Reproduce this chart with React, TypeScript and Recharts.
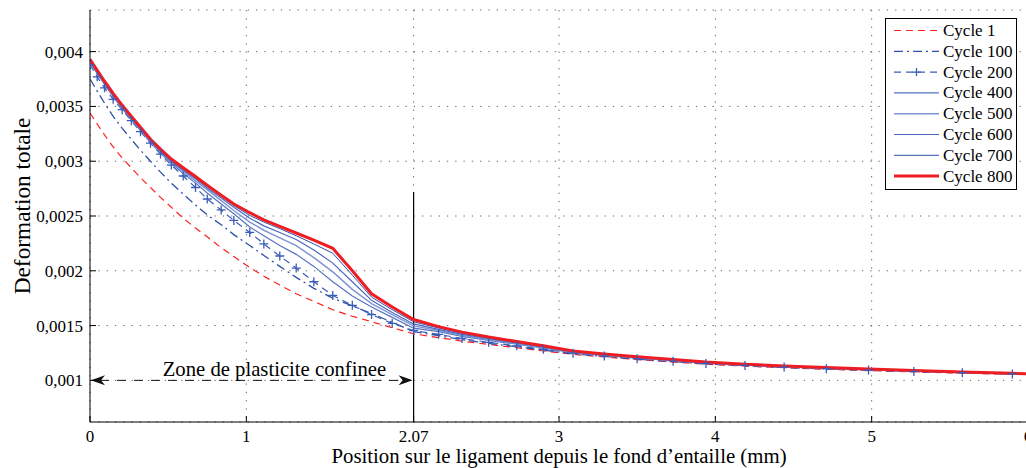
import React from "react";
import { LineChart, Line, XAxis, YAxis, CartesianGrid, ReferenceLine, Legend } from "recharts";

// mesh node positions along the ligament (mm)
const positions = [
  0, 0.046, 0.093, 0.148, 0.206, 0.264, 0.323, 0.387, 0.451, 0.52, 0.596, 0.675, 0.75, 0.839, 0.92,
  1.022, 1.112, 1.214, 1.319, 1.432, 1.553, 1.678, 1.801, 1.933, 2.07, 2.23, 2.38, 2.55, 2.73, 2.9,
  3.09, 3.29, 3.5, 3.73, 3.94, 4.19, 4.44, 4.71, 4.98, 5.27, 5.58, 5.9, 6.2,
];

// total strain, in units of 1e-3
const cycle1 = [
  3.44, 3.34, 3.24, 3.13, 3.03, 2.94, 2.85, 2.76, 2.67, 2.58, 2.48, 2.39, 2.31, 2.21, 2.13,
  2.03, 1.95, 1.87, 1.79, 1.72, 1.645, 1.585, 1.535, 1.48, 1.425, 1.39, 1.358, 1.328, 1.298, 1.268,
  1.238, 1.213, 1.19, 1.167, 1.147, 1.13, 1.115, 1.101, 1.089, 1.077, 1.066, 1.056, 1.046,
];
const cycle100 = [
  3.75, 3.64, 3.53, 3.41, 3.3, 3.2, 3.1, 3.0, 2.9, 2.8, 2.7, 2.6, 2.51, 2.42, 2.33,
  2.23, 2.14, 2.04, 1.94, 1.84, 1.75, 1.68, 1.61, 1.53, 1.445, 1.408, 1.372, 1.338, 1.307, 1.276,
  1.243, 1.218, 1.194, 1.171, 1.151, 1.133, 1.118, 1.104, 1.092, 1.08, 1.068, 1.057, 1.047,
];
const cycle200 = [
  3.88, 3.77, 3.67, 3.565, 3.47, 3.37, 3.27, 3.165, 3.065, 2.965, 2.865, 2.76, 2.655, 2.555, 2.46,
  2.35, 2.245, 2.135, 2.025, 1.9, 1.775, 1.685, 1.6, 1.52, 1.455, 1.42, 1.382, 1.347, 1.315, 1.283,
  1.248, 1.222, 1.198, 1.175, 1.154, 1.136, 1.121, 1.107, 1.094, 1.082, 1.07, 1.059, 1.048,
];
const cycle400 = [
  3.9, 3.8, 3.7, 3.59, 3.48, 3.38, 3.28, 3.17, 3.075, 2.98, 2.89, 2.8, 2.71, 2.61, 2.52,
  2.4, 2.32, 2.23, 2.15, 2.04, 1.9, 1.77, 1.67, 1.575, 1.476, 1.445, 1.402, 1.365, 1.33, 1.295,
  1.254, 1.228, 1.203, 1.179, 1.157, 1.139, 1.124, 1.109, 1.096, 1.084, 1.072, 1.06, 1.049,
];
const cycle500 = [
  3.91, 3.81, 3.71, 3.6, 3.49, 3.39, 3.29, 3.18, 3.085, 2.99, 2.91, 2.82, 2.74, 2.64, 2.55,
  2.445, 2.37, 2.3, 2.23, 2.12, 1.99, 1.83, 1.7, 1.6, 1.497, 1.455, 1.41, 1.372, 1.336, 1.3,
  1.258, 1.231, 1.206, 1.182, 1.16, 1.141, 1.126, 1.111, 1.097, 1.085, 1.073, 1.061, 1.05,
];
const cycle600 = [
  3.915, 3.815, 3.715, 3.605, 3.495, 3.395, 3.295, 3.185, 3.09, 3.0, 2.92, 2.84, 2.755, 2.665, 2.58,
  2.48, 2.41, 2.35, 2.285, 2.19, 2.07, 1.9, 1.73, 1.62, 1.515, 1.466, 1.42, 1.38, 1.342, 1.305,
  1.262, 1.234, 1.209, 1.185, 1.163, 1.144, 1.128, 1.113, 1.099, 1.087, 1.074, 1.062, 1.051,
];
const cycle700 = [
  3.92, 3.82, 3.72, 3.61, 3.5, 3.4, 3.3, 3.19, 3.1, 3.01, 2.93, 2.85, 2.77, 2.68, 2.595,
  2.505, 2.445, 2.385, 2.32, 2.245, 2.16, 1.96, 1.76, 1.645, 1.535, 1.478, 1.43, 1.387, 1.348, 1.31,
  1.265, 1.237, 1.212, 1.188, 1.165, 1.146, 1.13, 1.115, 1.101, 1.088, 1.075, 1.063, 1.052,
];
const cycle800 = [
  3.93, 3.83, 3.73, 3.62, 3.51, 3.41, 3.31, 3.2, 3.11, 3.02, 2.94, 2.86, 2.78, 2.69, 2.61,
  2.53, 2.465, 2.405, 2.345, 2.28, 2.205, 2.0, 1.79, 1.67, 1.555, 1.49, 1.44, 1.395, 1.355, 1.315,
  1.268, 1.24, 1.215, 1.19, 1.167, 1.148, 1.132, 1.117, 1.103, 1.09, 1.077, 1.064, 1.053,
];

const xTicks = [0, 1, 2.07, 3, 4, 5, 6];
const yTicks = [0.001, 0.0015, 0.002, 0.0025, 0.003, 0.0035, 0.004];
const zoneEnd = 2.07;
const zoneLevel = 0.001;
const zoneLineTop = 0.00272;
const zoneLabel = "Zone de plasticite confinee";
const xTitle = "Position sur le ligament depuis le fond d\u2019entaille (mm)";
const yTitle = "Deformation totale";

const FONT = "'Liberation Serif', 'Times New Roman', serif";

type Serie = { key: string; name: string; values: number[]; color: string; width: number; dash?: string; plus?: boolean };

const series: Serie[] = [
  { key: "c1", name: "Cycle 1", values: cycle1, color: "#ff2020", width: 1.2, dash: "7 5" },
  { key: "c100", name: "Cycle 100", values: cycle100, color: "#2f50a8", width: 1.3, dash: "9 4 2 4" },
  { key: "c200", name: "Cycle 200", values: cycle200, color: "#3a5cb8", width: 1.2, dash: "7 5", plus: true },
  { key: "c400", name: "Cycle 400", values: cycle400, color: "#5673c2", width: 1.2 },
  { key: "c500", name: "Cycle 500", values: cycle500, color: "#7f96d4", width: 1.5 },
  { key: "c600", name: "Cycle 600", values: cycle600, color: "#4a68bd", width: 1.2 },
  { key: "c700", name: "Cycle 700", values: cycle700, color: "#2f4fa8", width: 1 },
  { key: "c800", name: "Cycle 800", values: cycle800, color: "#ee1d23", width: 3 },
];

const rows = positions.map((x, i) => {
  const r: Record<string, number> = { x };
  series.forEach((s) => (r[s.key] = s.values[i] / 1000));
  return r;
});

function plusDot(color: string) {
  return (p: any) => {
    const { cx, cy, index } = p;
    if (cx == null || cy == null) return <g key={index} />;
    return (
      <path
        key={index}
        d={`M${cx - 4.5},${cy}H${cx + 4.5}M${cx},${cy - 4.5}V${cy + 4.5}`}
        stroke={color}
        strokeWidth={1.3}
        fill="none"
      />
    );
  };
}

function renderLegend() {
  const rowH = 20.8;
  return (
    <svg width={133} height={173} style={{ display: "block" }}>
      <rect x={0.5} y={0.5} width={131} height={171} fill="#fff" stroke="#000" strokeWidth={1} />
      {series.map((s, i) => {
        const y = 12.5 + i * rowH;
        return (
          <g key={s.key}>
            <line x1={9} x2={54} y1={y} y2={y} stroke={s.color} strokeWidth={s.width} strokeDasharray={s.dash} />
            {s.plus && (
              <path d={`M${31.5 - 4},${y}H${31.5 + 4}M31.5,${y - 4}V${y + 4}`} stroke={s.color} strokeWidth={1.3} />
            )}
            <text x={58} y={y + 5.5} fontSize={17} fontFamily={FONT} fill="#000">
              {s.name}
            </text>
          </g>
        );
      })}
    </svg>
  );
}

function ZoneArrow(p: any) {
  const { x1, y1, x2 } = p;
  const y = y1;
  const head = (tip: number, dir: number) =>
    `M${tip},${y}L${tip + dir * 14},${y - 5}L${tip + dir * 10},${y}L${tip + dir * 14},${y + 5}Z`;
  return (
    <g>
      <line x1={x1 + 10} x2={x2 - 10} y1={y} y2={y} stroke="#111" strokeWidth={1} strokeDasharray="9 8" />
      <path d={head(x1 + 1, 1)} fill="#111" />
      <path d={head(x2 - 1, -1)} fill="#111" />
      <text
        x={x1 + (x2 - x1) * 0.57}
        y={y - 4}
        textAnchor="middle"
        fontSize={20.7}
        fontFamily={FONT}
        fill="#000"
      >
        {zoneLabel}
      </text>
    </g>
  );
}

const fmtY = (v: number) => String(v).replace(".", ",");

export default function App() {
  return (
    <div style={{ position: "absolute", left: 0, top: 0, width: 1026, height: 468, overflow: "hidden", background: "#fff" }}>
      <LineChart
        width={1046}
        height={468}
        data={rows}
        margin={{ top: 10, right: 18, bottom: 0, left: 10 }}
        style={{ fontFamily: FONT }}
      >
        <CartesianGrid stroke="#666" strokeDasharray="1.3 7" />
        <XAxis
          dataKey="x"
          type="number"
          domain={[0, 6]}
          ticks={xTicks}
          allowDataOverflow
          height={46}
          interval={0}
          tickSize={-6}
          tickMargin={13.5}
          axisLine={{ stroke: "#000" }}
          tickLine={{ stroke: "#000" }}
          tick={{ fontSize: 17, fill: "#000", fontFamily: FONT }}
          label={(props: any) => {
            const vb = props.viewBox || { x: 90, width: 938 };
            return (
              <text x={vb.x + vb.width / 2} y={462.5} textAnchor="middle" fontSize={20.8} fontFamily={FONT} fill="#000">
                {xTitle}
              </text>
            );
          }}
        />
        <YAxis
          type="number"
          domain={[0.00062, 0.00438]}
          ticks={yTicks}
          width={80}
          interval={0}
          tickSize={-6}
          tickMargin={13}
          tickFormatter={fmtY}
          axisLine={{ stroke: "#000" }}
          tickLine={{ stroke: "#000" }}
          tick={{ fontSize: 17, fill: "#000", fontFamily: FONT }}
          label={() => (
            <text
              x={30}
              y={206}
              transform="rotate(-90, 30, 206)"
              textAnchor="middle"
              fontSize={23.3}
              fontFamily={FONT}
              fill="#000"
            >
              {yTitle}
            </text>
          )}
        />
        <ReferenceLine
          segment={[
            { x: zoneEnd, y: 0.00062 },
            { x: zoneEnd, y: zoneLineTop },
          ]}
          stroke="#000"
          strokeWidth={1.2}
        />
        <ReferenceLine
          segment={[
            { x: 0, y: zoneLevel },
            { x: zoneEnd, y: zoneLevel },
          ]}
          shape={ZoneArrow}
        />
        {series.map((s) => (
          <Line
            key={s.key}
            dataKey={s.key}
            name={s.name}
            type="linear"
            stroke={s.color}
            strokeWidth={s.width}
            strokeDasharray={s.dash}
            dot={s.plus ? plusDot(s.color) : false}
            activeDot={false}
            isAnimationActive={false}
          />
        ))}
        <Legend
          layout="vertical"
          align="center"
          verticalAlign="middle"
          content={renderLegend}
          wrapperStyle={{ left: 885, top: 18, width: 133, height: 173 }}
        />
      </LineChart>
    </div>
  );
}
